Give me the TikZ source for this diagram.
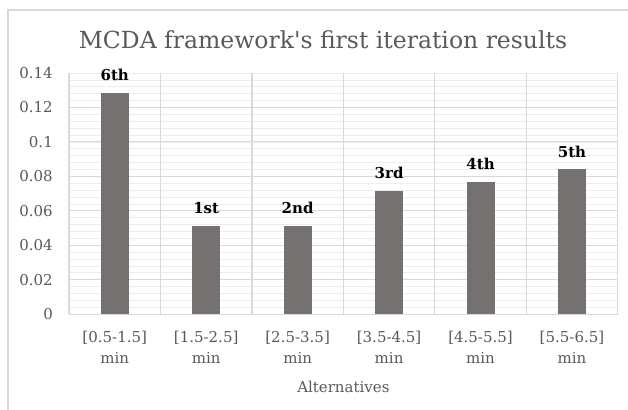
\documentclass[tikz,border=0pt]{standalone}
\usepackage{fontspec}
\setmainfont{DejaVu Serif}
\usepackage{tikz}
\definecolor{bargrey}{HTML}{767171}
\definecolor{textgrey}{HTML}{595959}
\definecolor{majorgrey}{HTML}{D9D9D9}
\definecolor{minorgrey}{HTML}{EDEDED}
\tikzstyle{bar} = [fill=bargrey, draw=none]
\tikzstyle{major} = [draw=majorgrey, line width=1.2pt]
\tikzstyle{minor} = [draw=minorgrey, line width=1pt]
\tikzstyle{tick} = [anchor=east, inner sep=0pt, text=textgrey, font=\fontsize{15}{16}\selectfont]
\tikzstyle{cat} = [anchor=north, inner sep=0pt, align=center, text=textgrey, font=\fontsize{15}{21}\selectfont]
\tikzstyle{rank} = [anchor=south, inner sep=0pt, font=\bfseries\fontsize{15}{16}\selectfont]

\begin{document}
\begin{tikzpicture}[x=1pt,y=1pt]
					\useasboundingbox (0,0) rectangle (628,409);
					\begin{scope}
					\clip (0,0) rectangle (628,409);
					\draw[majorgrey, line width=1.2pt] (8,-20) -- (8,399) -- (660,399);
					\end{scope}
					\node[text=textgrey, font=\fontsize{23.5}{26}\selectfont] (title) at (323,369) {MCDA framework\textquotesingle s first iteration results};
					\begin{scope}[xshift=69pt, yshift=94.7pt, x=91.45pt, y=1723.6pt]
					\draw[minor] (0,0) grid[xstep=6, ystep=0.004] (6,0.14);
					\draw[major] (0,0) grid[xstep=1, ystep=0.02] (6,0.14);
					% axis values
					\node[tick] (t0) at (-0.175,0) {0};
					\node[tick] (t2) at (-0.175,0.02) {0.02};
					\node[tick] (t4) at (-0.175,0.04) {0.04};
					\node[tick] (t6) at (-0.175,0.06) {0.06};
					\node[tick] (t8) at (-0.175,0.08) {0.08};
					\node[tick] (t10) at (-0.175,0.10) {0.1};
					\node[tick] (t12) at (-0.175,0.12) {0.12};
					\node[tick] (t14) at (-0.175,0.14) {0.14};
					% bars
					\path[bar] (0.347,0) rectangle (0.653,0.1286);
					\path[bar] (1.347,0) rectangle (1.653,0.0512);
					\path[bar] (2.347,0) rectangle (2.653,0.0512);
					\path[bar] (3.347,0) rectangle (3.653,0.0715);
					\path[bar] (4.347,0) rectangle (4.653,0.0769);
					\path[bar] (5.347,0) rectangle (5.653,0.0841);
					% ranks
					\node[rank] (r1) at (0.5,0.1354) {6th};
					\node[rank] (r2) at (1.5,0.058) {1st};
					\node[rank] (r3) at (2.5,0.058) {2nd};
					\node[rank] (r4) at (3.5,0.0783) {3rd};
					\node[rank] (r5) at (4.5,0.0837) {4th};
					\node[rank] (r6) at (5.5,0.0909) {5th};
					% categories
					\node[cat] (c1) at (0.5,-0.0095) {[0.5-1.5]\\min};
					\node[cat] (c2) at (1.5,-0.0095) {[1.5-2.5]\\min};
					\node[cat] (c3) at (2.5,-0.0095) {[2.5-3.5]\\min};
					\node[cat] (c4) at (3.5,-0.0095) {[3.5-4.5]\\min};
					\node[cat] (c5) at (4.5,-0.0095) {[4.5-5.5]\\min};
					\node[cat] (c6) at (5.5,-0.0095) {[5.5-6.5]\\min};
					\node[text=textgrey, font=\fontsize{15}{16}\selectfont] (axis) at (3,-0.0423) {Alternatives};
					\end{scope}
				\end{tikzpicture}
\end{document}
